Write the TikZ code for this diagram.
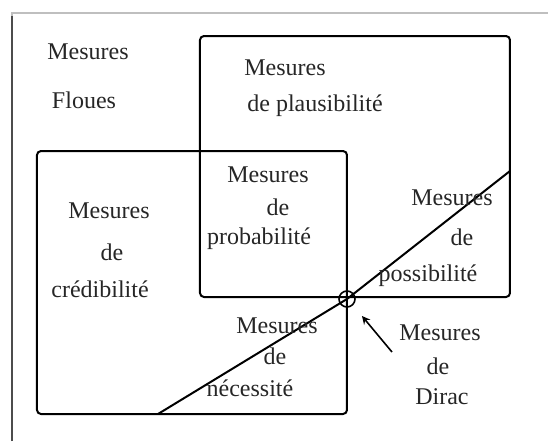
\documentclass[tikz,border=0pt]{standalone}
\usepackage{fontspec}
\setmainfont{Liberation Serif}
\usepackage{tikz}

\begin{document}
\begin{tikzpicture}[>=stealth, x=0.5pt, y=-0.5pt,
        box/.style={line width=1pt, rounded corners=2pt},
        lbl/.style={inner sep=0pt, font=\fontsize{12}{14}\selectfont, text=black!85}]
        \useasboundingbox (0,0) rectangle (548,441);
        
        % Cadre extérieur (mesures floues)
        \draw[black!25, line width=1pt] (12,441) -- (12,13) -- (548,13);
        \draw[black!70, line width=1pt] (12,441) -- (12,16);
        
        % Les deux rectangles
        \draw[box] (200,36) rectangle (510,297);
        \draw[box] (37,151) rectangle (347,414);
        
        % Point de Dirac et droite de séparation
        \node[draw, circle, line width=0.8pt, minimum size=8pt, inner sep=0pt] (dirac) at (347,299) {};
        \coordinate (d1) at (158,414);
        \coordinate (d2) at (510,171);
        \draw[line width=1pt] (d1) -- (dirac.center) -- (d2);
        
        % Mesures floues
        \node[lbl] (fl1) at (88,52) {Mesures};
        \node[lbl] (fl2) at (84,100) {Floues};
        
        % Plausibilité
        \node[lbl] (pl1) at (285,68) {Mesures};
        \node[lbl] (pl2) at (315,106) {de plausibilité};
        
        % Crédibilité
        \node[lbl] (cr1) at (109,211) {Mesures};
        \node[lbl] (cr2) at (112,252) {de};
        \node[lbl] (cr3) at (100,289) {crédibilité};
        
        % Probabilité
        \node[lbl] (pr1) at (268,175) {Mesures};
        \node[lbl] (pr2) at (278,207) {de};
        \node[lbl] (pr3) at (259,239) {probabilité};
        
        % Possibilité
        \node[lbl] (po1) at (452,198) {Mesures};
        \node[lbl] (po2) at (462,237) {de};
        \node[lbl] (po3) at (428,276) {possibilité};
        
        % Nécessité
        \node[lbl] (ne1) at (277,326) {Mesures};
        \node[lbl] (ne2) at (275,356) {de};
        \node[lbl] (ne3) at (250,388) {nécessité};
        
        % Dirac et la flèche
        \node[lbl] (di1) at (440,333) {Mesures};
        \node[lbl] (di2) at (438,366) {de};
        \node[lbl] (di3) at (442,397) {Dirac};
        \coordinate (fl) at (392,352);
        \draw[->, line width=0.8pt] (fl) -- (362,316);
    \end{tikzpicture}
\end{document}
